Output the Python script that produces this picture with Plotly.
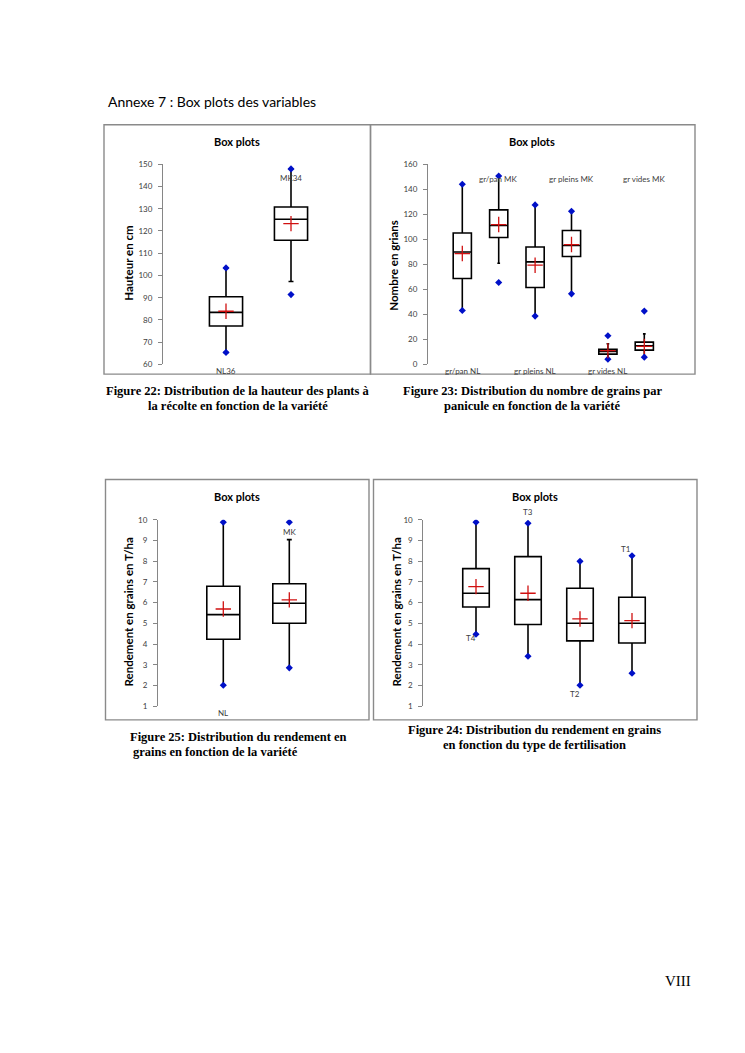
import plotly.graph_objects as go

W, H = 745, 1053
# small vertical correction for the capture (measured): rendered_y ~ C + K*(y - C)
C_Y, K_Y = 526.5, 0.9912


def fx(x):
    return x / W


def fy(y):
    y_in = C_Y + (y - C_Y) / K_Y
    return 1 - y_in / H


# ---------------- data ----------------
# Figure 22: plant height (cm)
p1_cats = ["NL36", "MK34"]
p1_min = [65.4, 91.4]
p1_lowfence = [65.4, 97.3]
p1_q1 = [77.3, 115.8]
p1_med = [83.4, 125.3]
p1_q3 = [90.4, 130.8]
p1_upfence = [103.4, 147.9]
p1_max = [103.4, 147.9]
p1_mean = [83.9, 123.3]

# Figure 23: number of grains
p2_cats = ["gr/pan NL", "gr/pan MK", "gr pleins NL", "gr pleins MK", "gr vides NL", "gr vides MK"]
p2_min = [43.1, 65.5, 38.6, 56.4, 4.2, 5.8]
p2_lowfence = [43.1, 80.9, 38.6, 56.4, 4.2, 5.8]
p2_q1 = [68.7, 101.4, 61.5, 86.3, 8.2, 11.4]
p2_med = [89.9, 111.0, 82.0, 95.0, 10.4, 14.9]
p2_q3 = [105.1, 123.5, 93.9, 107.0, 12.0, 17.8]
p2_upfence = [144.0, 150.6, 127.5, 122.4, 16.5, 24.4]
p2_max = [144.0, 150.6, 127.5, 122.4, 22.9, 42.6]
p2_mean = [88.6, 111.8, 79.3, 95.8, 11.0, 14.4]

# Figure 25: yield by variety (T/ha)
p3_cats = ["NL", "MK"]
p3_min = [2.01, 2.85]
p3_lowfence = [2.01, 2.85]
p3_q1 = [4.23, 5.00]
p3_med = [5.42, 5.97]
p3_q3 = [6.79, 6.91]
p3_upfence = [9.88, 9.04]
p3_max = [9.88, 9.88]
p3_mean = [5.69, 6.13]

# Figure 24: yield by fertilisation (T/ha)
p4_cats = ["T4", "T3", "T2", "T1"]
p4_min = [4.47, 3.41, 2.01, 2.59]
p4_lowfence = [4.47, 3.41, 2.01, 2.59]
p4_q1 = [5.79, 4.94, 4.15, 4.05]
p4_med = [6.45, 6.14, 5.00, 5.00]
p4_q3 = [7.64, 8.22, 6.69, 6.26]
p4_upfence = [9.88, 9.83, 7.99, 8.26]
p4_max = [9.88, 9.83, 7.99, 8.26]
p4_mean = [6.77, 6.45, 5.21, 5.13]

# ---------------- styling ----------------
FONT = "Lato"
AXIS_GREY = "#868686"
TICK_COL = "#404040"
MIN_MAX_COL = "#0010C8"
MEAN_COL = "#D01010"

fig = go.Figure()

panels = [
    dict(cats=p1_cats, mn=p1_min, lf=p1_lowfence, q1=p1_q1, md=p1_med, q3=p1_q3, uf=p1_upfence,
         mx=p1_max, mean=p1_mean, ax="", dom=(163, 360), c0=226, sp=65, ydom=(164, 364.3),
         yr=(60, 150), dt=10, bw=0.51),
    dict(cats=p2_cats, mn=p2_min, lf=p2_lowfence, q1=p2_q1, md=p2_med, q3=p2_q3, uf=p2_upfence,
         mx=p2_max, mean=p2_mean, ax="2", dom=(428, 690), c0=462.3, sp=36.4, ydom=(164, 364.3),
         yr=(0, 160), dt=20, bw=0.5),
    dict(cats=p3_cats, mn=p3_min, lf=p3_lowfence, q1=p3_q1, md=p3_med, q3=p3_q3, uf=p3_upfence,
         mx=p3_max, mean=p3_mean, ax="3", dom=(158, 360), c0=223.3, sp=66, ydom=(519.7, 706.3),
         yr=(1, 10), dt=1, bw=0.5),
    dict(cats=p4_cats, mn=p4_min, lf=p4_lowfence, q1=p4_q1, md=p4_med, q3=p4_q3, uf=p4_upfence,
         mx=p4_max, mean=p4_mean, ax="4", dom=(423.3, 690), c0=476, sp=52, ydom=(519.7, 706.3),
         yr=(1, 10), dt=1, bw=0.51),
]

layout_axes = {}
for p in panels:
    n = len(p["cats"])
    xs = list(range(1, n + 1))
    xa = "x" + p["ax"]
    ya = "y" + p["ax"]
    fig.add_trace(go.Box(
        x=xs, q1=p["q1"], median=p["md"], q3=p["q3"],
        lowerfence=p["lf"], upperfence=p["uf"],
        width=p["bw"], whiskerwidth=0.15,
        fillcolor="white", line=dict(color="black", width=1.6),
        boxpoints=False, xaxis=xa, yaxis=ya, showlegend=False, hoverinfo="skip",
    ))
    fig.add_trace(go.Scatter(
        x=xs + xs, y=p["mn"] + p["mx"], mode="markers",
        marker=dict(symbol="diamond", size=5.5, color=MIN_MAX_COL),
        xaxis=xa, yaxis=ya, showlegend=False, hoverinfo="skip",
    ))
    fig.add_trace(go.Scatter(
        x=xs, y=p["mean"], mode="markers",
        marker=dict(symbol="cross-thin", size=11, color=MEAN_COL,
                    line=dict(color=MEAN_COL, width=1.3)),
        xaxis=xa, yaxis=ya, showlegend=False, hoverinfo="skip",
    ))
    a, b = p["dom"]
    r0 = 1 - (p["c0"] - a) / p["sp"]
    r1 = 1 + (b - p["c0"]) / p["sp"]
    xkey = "xaxis" + p["ax"]
    ykey = "yaxis" + p["ax"]
    layout_axes[xkey] = dict(domain=[fx(a), fx(b)], range=[r0, r1], visible=False,
                             anchor=ya, fixedrange=True)
    yt, yb = p["ydom"]
    layout_axes[ykey] = dict(
        domain=[fy(yb), fy(yt)], range=list(p["yr"]), dtick=p["dt"], tick0=0,
        anchor=xa, showgrid=False, zeroline=False, showline=True, linecolor=AXIS_GREY,
        linewidth=1, ticks="outside", ticklen=4, tickcolor=AXIS_GREY, tickwidth=1,
        tickfont=dict(family=FONT, size=8, color=TICK_COL), ticklabelstandoff=4,
        fixedrange=True,
    )

annotations = []


def ann(text, x, y, size=8, bold=False, color=TICK_COL, family=FONT, angle=0,
        xanchor="center", xref="paper", yref="paper"):
    if bold:
        text = "<b>" + text + "</b>"
    annotations.append(dict(
        text=text, x=x, y=y, xref=xref, yref=yref, showarrow=False,
        font=dict(family=family, size=size, color=color), textangle=angle,
        xanchor=xanchor, yanchor="middle",
    ))


# panel titles
for cx, cy in [(237, 141), (532, 141), (237, 496), (535, 496)]:
    ann("Box plots", fx(cx), fy(cy), size=11, bold=True, color="black")

# y axis titles
ann("Hauteur en cm", fx(128.5), fy(263), size=11.5, bold=True, color="black", angle=-90)
ann("Nombre en grians", fx(393.5), fy(265), size=11.5, bold=True, color="black", angle=-90)
ann("Rendement en grains en T/ha", fx(128.5), fy(612), size=11.5, bold=True, color="black", angle=-90)
ann("Rendement en grains en T/ha", fx(396.5), fy(612), size=11.5, bold=True, color="black", angle=-90)

# category labels
p1_lab_y = [371, 178]
for i, c in enumerate(p1_cats):
    ann(c, i + 1, fy(p1_lab_y[i]), xref="x", yref="paper")
for i, c in enumerate(p2_cats):
    ann(c, i + 1, fy(371 if i % 2 == 0 else 179), xref="x2", yref="paper")
p3_lab_y = [713, 532]
for i, c in enumerate(p3_cats):
    ann(c, i + 1, fy(p3_lab_y[i]), xref="x3", yref="paper")
p4_lab_y = [638, 512, 694, 549]
p4_lab_dx = [-0.1, 0.0, -0.1, -0.12]
for i, c in enumerate(p4_cats):
    ann(c, i + 1 + p4_lab_dx[i], fy(p4_lab_y[i]), xref="x4", yref="paper")

# page header
ann("Annexe 7 : Box plots des variables", fx(106), fy(101), size=14, color="black",
    xanchor="left")

# captions
SERIF = "Liberation Serif"
CS = 12.5
ann("Figure 22: Distribution de la hauteur des plants à", fx(238), fy(391), size=CS,
    bold=True, color="black", family=SERIF)
ann("la récolte en fonction de la variété", fx(238), fy(406), size=CS,
    bold=True, color="black", family=SERIF)
ann("Figure 23: Distribution du nombre de grains par", fx(532), fy(391), size=CS,
    bold=True, color="black", family=SERIF)
ann("panicule en fonction de la variété", fx(532), fy(406), size=CS,
    bold=True, color="black", family=SERIF)
ann("Figure 25: Distribution du rendement en", fx(128), fy(737), size=CS,
    bold=True, color="black", family=SERIF, xanchor="left")
ann("grains en fonction de la variété", fx(131), fy(752), size=CS,
    bold=True, color="black", family=SERIF, xanchor="left")
ann("Figure 24: Distribution du rendement en grains", fx(534), fy(730), size=CS,
    bold=True, color="black", family=SERIF)
ann("en fonction du type de fertilisation", fx(534), fy(745), size=CS,
    bold=True, color="black", family=SERIF)

# page number
ann("VIII", fx(678), fy(981), size=15, color="black", family=SERIF)

# frames around the charts
shapes = []
for (x0, y0, x1, y1) in [(104, 124.5, 370.5, 374), (370.5, 124.5, 695, 374),
                         (105.5, 479.5, 369, 720), (373.5, 479.5, 697, 720)]:
    shapes.append(dict(type="rect", xref="paper", yref="paper",
                       x0=fx(x0), x1=fx(x1), y0=fy(y1), y1=fy(y0),
                       line=dict(color="#8a8a8a", width=1.4), fillcolor="rgba(0,0,0,0)",
                       layer="below"))

fig.update_layout(
    width=W, height=H, margin=dict(l=0, r=0, t=0, b=0),
    paper_bgcolor="white", plot_bgcolor="white",
    annotations=annotations, shapes=shapes, showlegend=False, boxmode="overlay",
    **layout_axes,
)

fig.write_html(
    "out.html",
    config={"displayModeBar": False, "staticPlot": True},
    post_script=(
        "var d=document.getElementById('{plot_id}');"
        "d.style.position='absolute';d.style.top='0px';d.style.left='0px';"
        "document.body.style.margin='0';"
        "document.documentElement.style.overflow='hidden';"
        "document.body.style.overflow='hidden';"
    ),
)
